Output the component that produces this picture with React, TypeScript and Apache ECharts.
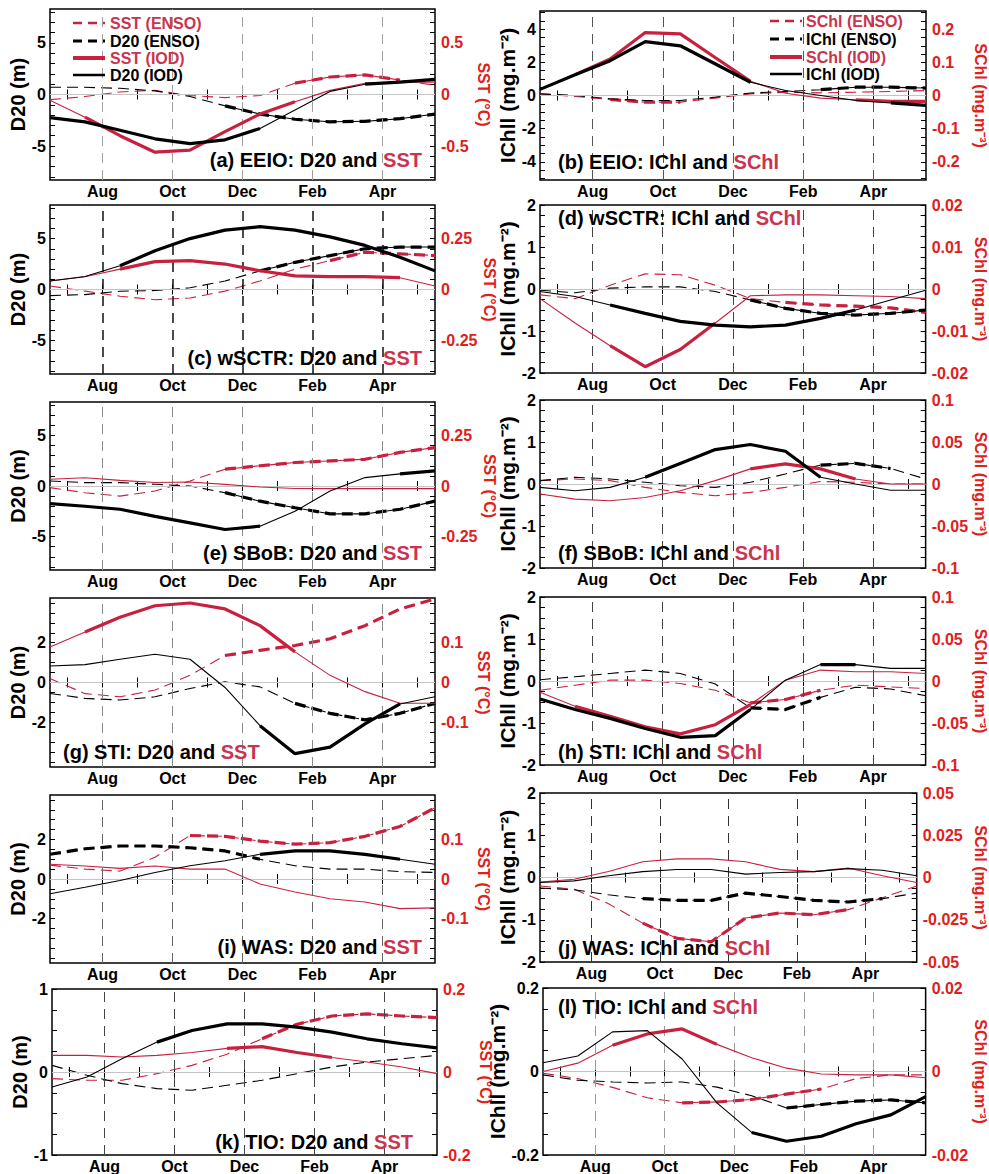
import { useEffect, useRef } from 'react';
import * as echarts from 'echarts';

// x axis unit: months since 1 June; monthly values are plotted mid-month (Jun..May)
const DATA_MONTHS = ['Jun', 'Jul', 'Aug', 'Sep', 'Oct', 'Nov', 'Dec', 'Jan', 'Feb', 'Mar', 'Apr', 'May'];
const X_LABELS = ['Aug', 'Oct', 'Dec', 'Feb', 'Apr'];
const X_LABEL_AT = [2, 4, 6, 8, 10];
const X_TICKS = [1, 2, 3, 4, 5, 6, 7, 8, 9, 10, 11];

// (a) EEIO
const A_SST_ENSO = [-0.05, -0.02, 0.025, 0.04, -0.01, -0.03, -0.01, 0.11, 0.17, 0.19, 0.14, 0.09];
const A_SST_ENSO_SIG = '000000011110';
const A_D20_ENSO = [0.7, 0.7, 0.6, 0.35, -0.2, -1.1, -1.9, -2.4, -2.65, -2.6, -2.35, -1.9];
const A_D20_ENSO_SIG = '000001111111';
const A_SST_IOD = [-0.055, -0.22, -0.4, -0.56, -0.54, -0.36, -0.19, -0.07, 0.04, 0.11, 0.12, 0.12];
const A_SST_IOD_SIG = '011111110000';
const A_D20_IOD = [-2.24, -2.66, -3.47, -4.3, -4.77, -4.4, -3.3, -1.5, 0.3, 1.0, 1.2, 1.46];
const A_D20_IOD_SIG = '111111100111';

// (b) EEIO chlorophyll
const B_SCHL_ENSO = [0.005, -0.003, -0.012, -0.02, -0.02, -0.008, 0.005, 0.01, 0.008, 0.01, 0.012, 0.015];
const B_SCHL_ENSO_SIG = '001110000000';
const B_ICHL_ENSO = [0.1, 0.0, -0.2, -0.3, -0.3, -0.1, 0.15, 0.25, 0.35, 0.5, 0.5, 0.45];
const B_ICHL_ENSO_SIG = '000000001111';
const B_SCHL_IOD = [0.017, 0.063, 0.11, 0.19, 0.186, 0.114, 0.043, 0.007, -0.008, -0.013, -0.018, -0.018];
const B_SCHL_IOD_SIG = '011111100111';
const B_ICHL_IOD = [0.37, 1.25, 2.1, 3.25, 3.0, 1.9, 0.8, 0.3, 0.0, -0.3, -0.45, -0.6];
const B_ICHL_IOD_SIG = '111111100011';

// (c) wSCTR
const C_SST_ENSO = [0.017, -0.008, -0.033, -0.05, -0.042, -0.008, 0.042, 0.1, 0.142, 0.183, 0.175, 0.167];
const C_SST_ENSO_SIG = '000000001111';
const C_D20_ENSO = [-0.6, -0.5, -0.17, -0.1, 0.17, 0.83, 1.83, 2.67, 3.33, 4.0, 4.17, 4.17];
const C_D20_ENSO_SIG = '000000111111';
const C_SST_IOD = [0.042, 0.063, 0.1, 0.137, 0.142, 0.125, 0.092, 0.067, 0.063, 0.063, 0.058, 0.017];
const C_SST_IOD_SIG = '001111111110';
const C_D20_IOD = [0.83, 1.27, 2.33, 3.8, 5.0, 5.83, 6.17, 5.83, 5.17, 4.33, 3.17, 1.83];
const C_D20_IOD_SIG = '001111111111';

// (d) wSCTR chlorophyll
const D_SCHL_ENSO = [-0.0014, -0.0023, 0.0009, 0.0036, 0.0034, 0.0009, -0.0023, -0.0032, -0.0038, -0.0041, -0.0045, -0.0056];
const D_SCHL_ENSO_SIG = '000000011111';
const D_ICHL_ENSO = [-0.03, -0.09, 0.02, 0.05, 0.05, -0.06, -0.26, -0.46, -0.58, -0.62, -0.58, -0.5];
const D_ICHL_ENSO_SIG = '000000111111';
const D_SCHL_IOD = [-0.0023, -0.0081, -0.0135, -0.0185, -0.0144, -0.0081, -0.0016, -0.0014, -0.0014, -0.0016, -0.0018, -0.0023];
const D_SCHL_IOD_SIG = '001111000000';
const D_ICHL_IOD = [-0.06, -0.18, -0.38, -0.58, -0.77, -0.86, -0.9, -0.86, -0.7, -0.5, -0.26, -0.03];
const D_ICHL_IOD_SIG = '001111111100';

// (e) SBoB
const E_SST_ENSO = [-0.008, -0.033, -0.05, -0.025, 0.025, 0.083, 0.1, 0.116, 0.124, 0.132, 0.166, 0.19];
const E_SST_ENSO_SIG = '000001111111';
const E_D20_ENSO = [0.5, 0.33, 0.33, 0.17, 0, -0.66, -1.5, -2.15, -2.75, -2.75, -2.3, -1.5];
const E_D20_ENSO_SIG = '000001111111';
const E_SST_IOD = [0.033, 0.041, 0.028, 0.017, 0.02, 0.008, -0.005, -0.012, -0.013, -0.013, -0.013, -0.013];
const E_SST_IOD_SIG = '000000000000';
const E_D20_IOD = [-1.75, -2.0, -2.3, -3.0, -3.64, -4.3, -3.97, -2.5, -0.5, 0.83, 1.2, 1.5];
const E_D20_IOD_SIG = '111111100011';

// (f) SBoB chlorophyll
const F_SCHL_ENSO = [0.004, 0.006, 0.004, -0.004, -0.01, -0.014, -0.01, -0.004, 0.003, 0.002, 0, 0];
const F_SCHL_ENSO_SIG = '000000000000';
const F_ICHL_ENSO = [0.08, 0.16, 0.12, 0.04, -0.04, -0.08, 0.04, 0.24, 0.45, 0.49, 0.37, 0.12];
const F_ICHL_ENSO_SIG = '000000001110';
const F_SCHL_IOD = [-0.012, -0.018, -0.02, -0.016, -0.008, 0.004, 0.018, 0.024, 0.018, 0.006, 0, 0];
const F_SCHL_IOD_SIG = '000000111100';
const F_ICHL_IOD = [-0.08, -0.16, -0.08, 0.16, 0.49, 0.82, 0.94, 0.78, 0.16, 0.0, -0.15, -0.15];
const F_ICHL_IOD_SIG = '000111111000';

// (g) STI
const G_SST_ENSO = [0.01, -0.028, -0.036, -0.019, 0.018, 0.068, 0.081, 0.093, 0.11, 0.143, 0.185, 0.21];
const G_SST_ENSO_SIG = '000001111111';
const G_D20_ENSO = [-0.55, -0.8, -0.88, -0.72, -0.3, 0.03, -0.22, -1.05, -1.55, -1.88, -1.55, -1.05];
const G_D20_ENSO_SIG = '000000011111';
const G_SST_IOD = [0.089, 0.127, 0.164, 0.193, 0.2, 0.185, 0.143, 0.077, 0.018, -0.023, -0.052, -0.052];
const G_SST_IOD_SIG = '011111110000';
const G_D20_IOD = [0.83, 0.9, 1.17, 1.42, 1.17, -0.25, -2.17, -3.58, -3.25, -2.08, -1.08, -0.72];
const G_D20_IOD_SIG = '000000111110';

// (h) STI chlorophyll
const H_SCHL_ENSO = [-0.011, -0.005, 0.001, 0.001, -0.003, -0.011, -0.026, -0.022, -0.011, -0.005, -0.007, -0.009];
const H_SCHL_ENSO_SIG = '000000111000';
const H_ICHL_ENSO = [0.03, 0.1, 0.18, 0.26, 0.18, -0.07, -0.64, -0.68, -0.39, -0.15, -0.19, -0.35];
const H_ICHL_ENSO_SIG = '000000111000';
const H_SCHL_IOD = [-0.0135, -0.03, -0.042, -0.0545, -0.063, -0.052, -0.028, 0.001, 0.013, 0.011, 0.011, 0.009];
const H_SCHL_IOD_SIG = '011111100000';
const H_ICHL_IOD = [-0.43, -0.68, -0.89, -1.13, -1.34, -1.3, -0.68, 0.02, 0.39, 0.39, 0.3, 0.3];
const H_ICHL_IOD_SIG = '111111101100';

// (i) WAS
const I_SST_ENSO = [0.035, 0.025, 0.02, 0.055, 0.11, 0.108, 0.096, 0.088, 0.092, 0.108, 0.133, 0.18];
const I_SST_ENSO_SIG = '000011111111';
const I_D20_ENSO = [1.25, 1.53, 1.67, 1.67, 1.58, 1.42, 1.0, 0.67, 0.5, 0.5, 0.37, 0.33];
const I_D20_ENSO_SIG = '111111100000';
const I_SST_IOD = [0.0375, 0.033, 0.027, 0.033, 0.025, 0.025, -0.0125, -0.033, -0.05, -0.058, -0.075, -0.073];
const I_SST_IOD_SIG = '000000000000';
const I_D20_IOD = [-0.75, -0.42, -0.08, 0.33, 0.67, 0.92, 1.25, 1.42, 1.42, 1.25, 1.0, 0.75];
const I_D20_IOD_SIG = '000000111110';

// (j) WAS chlorophyll
const J_SCHL_ENSO = [-0.005, -0.007, -0.0155, -0.027, -0.036, -0.038, -0.024, -0.021, -0.022, -0.019, -0.012, -0.005];
const J_SCHL_ENSO_SIG = '000111111100';
const J_ICHL_ENSO = [-0.25, -0.29, -0.41, -0.5, -0.54, -0.54, -0.37, -0.45, -0.54, -0.58, -0.5, -0.37];
const J_ICHL_ENSO_SIG = '000111111110';
const J_SCHL_IOD = [-0.0027, -0.001, 0.0035, 0.0093, 0.011, 0.011, 0.0093, 0.0048, 0.0035, 0.0056, 0.001, -0.003];
const J_SCHL_IOD_SIG = '000000000000';
const J_ICHL_IOD = [-0.12, -0.08, 0.04, 0.14, 0.19, 0.19, 0.08, 0.12, 0.14, 0.21, 0.17, 0.04];
const J_ICHL_IOD_SIG = '000000000000';

// (k) TIO
const K_SST_ENSO = [-0.016, -0.02, -0.02, -0.004, 0.016, 0.043, 0.08, 0.115, 0.135, 0.14, 0.135, 0.131];
const K_SST_ENSO_SIG = '000000111111';
const K_D20_ENSO = [0.08, -0.04, -0.14, -0.2, -0.22, -0.16, -0.1, -0.02, 0.06, 0.12, 0.16, 0.2];
const K_D20_ENSO_SIG = '000000000000';
const K_SST_IOD = [0.04, 0.04, 0.036, 0.04, 0.047, 0.057, 0.061, 0.047, 0.035, 0.024, 0.012, -0.004];
const K_SST_IOD_SIG = '000001111000';
const K_D20_IOD = [-0.18, -0.06, 0.16, 0.36, 0.5, 0.58, 0.58, 0.54, 0.48, 0.4, 0.34, 0.29];
const K_D20_IOD_SIG = '000111111111';

// (l) TIO chlorophyll
const L_SCHL_ENSO = [-0.0004, -0.0017, -0.0038, -0.0063, -0.0075, -0.0073, -0.0067, -0.0054, -0.0042, -0.0017, -0.0008, -0.0008];
const L_SCHL_ENSO_SIG = '000011111000';
const L_ICHL_ENSO = [-0.008, -0.021, -0.025, -0.0275, -0.025, -0.0375, -0.058, -0.0875, -0.079, -0.071, -0.068, -0.075];
const L_ICHL_ENSO_SIG = '000000011111';
const L_SCHL_IOD = [0, 0.002, 0.0063, 0.009, 0.0102, 0.0065, 0.0033, 0.0008, -0.0006, -0.0008, -0.0008, -0.0015];
const L_SCHL_IOD_SIG = '001111000000';
const L_ICHL_IOD = [0.021, 0.037, 0.095, 0.098, 0.03, -0.075, -0.146, -0.167, -0.155, -0.125, -0.104, -0.06];
const L_ICHL_IOD_SIG = '000000111111';

const LEGEND_A = ['SST (ENSO)', 'D20 (ENSO)', 'SST (IOD)', 'D20 (IOD)'];
const LEGEND_B = ['SChl (ENSO)', 'IChl (ENSO)', 'SChl (IOD)', 'IChl (IOD)'];
const NAME_D20 = 'D20 (m)';
const NAME_SST = 'SST (°C)';
const NAME_ICHL = 'IChll (mg.m⁻²)';
const NAME_SCHL = 'SChl (mg.m⁻³)';

const FONT = "'Liberation Sans', Arial, Helvetica, sans-serif";
const RED_LINE = '#c8213f';
const RED_TEXT = '#e0201b';
const TITLE_RED = '#c9344f';
const DASH = [11, 6];

type Line = { vals: number[]; sig: string; red: boolean; dashed: boolean };
const L4 = (re: number[], res: string, be: number[], bes: string, ri: number[], ris: string, bi: number[], bis: string): Line[] => [
  { vals: re, sig: res, red: true, dashed: true },
  { vals: be, sig: bes, red: false, dashed: true },
  { vals: ri, sig: ris, red: true, dashed: false },
  { vals: bi, sig: bis, red: false, dashed: false },
];

const PANELS = [
  { t: ['(a) EEIO: D20 and ', 'SST'], tp: [422, 160, 'right'], box: [50, 9, 385, 171], yl: 8.3, yr: 0.83, ll: [-5, 0, 5], rl: [-0.5, 0, 0.5], lt: 1, rt: 0.1, ln: NAME_D20, rn: NAME_SST, gc: '#a0a0a0', gw: 1,
    lines: L4(A_SST_ENSO, A_SST_ENSO_SIG, A_D20_ENSO, A_D20_ENSO_SIG, A_SST_IOD, A_SST_IOD_SIG, A_D20_IOD, A_D20_IOD_SIG) },
  { t: ['(b) EEIO: IChl and ', 'SChl'], tp: [558, 162, 'left'], box: [540, 11, 387, 169], yl: 5.1, yr: 0.255, ll: [-4, -2, 0, 2, 4], rl: [-0.2, -0.1, 0, 0.1, 0.2], lt: 0.5, rt: 0.025, ln: NAME_ICHL, rn: NAME_SCHL, gc: '#555', gw: 1,
    lines: L4(B_SCHL_ENSO, B_SCHL_ENSO_SIG, B_ICHL_ENSO, B_ICHL_ENSO_SIG, B_SCHL_IOD, B_SCHL_IOD_SIG, B_ICHL_IOD, B_ICHL_IOD_SIG) },
  { t: ['(c) wSCTR: D20 and ', 'SST'], tp: [422, 358, 'right'], box: [50, 205, 385, 169], yl: 8.3, yr: 0.415, ll: [-5, 0, 5], rl: [-0.25, 0, 0.25], lt: 1, rt: 0.05, ln: NAME_D20, rn: NAME_SST, gc: '#111', gw: 1.5,
    lines: L4(C_SST_ENSO, C_SST_ENSO_SIG, C_D20_ENSO, C_D20_ENSO_SIG, C_SST_IOD, C_SST_IOD_SIG, C_D20_IOD, C_D20_IOD_SIG) },
  { t: ['(d) wSCTR: IChl and ', 'SChl'], tp: [558, 218, 'left'], box: [540, 205, 387, 168], yl: 2, yr: 0.02, ll: [-2, -1, 0, 1, 2], rl: [-0.02, -0.01, 0, 0.01, 0.02], lt: 0.25, rt: 0.0025, ln: NAME_ICHL, rn: NAME_SCHL, gc: '#444', gw: 1,
    lines: L4(D_SCHL_ENSO, D_SCHL_ENSO_SIG, D_ICHL_ENSO, D_ICHL_ENSO_SIG, D_SCHL_IOD, D_SCHL_IOD_SIG, D_ICHL_IOD, D_ICHL_IOD_SIG) },
  { t: ['(e) SBoB: D20 and ', 'SST'], tp: [422, 553, 'right'], box: [50, 402, 385, 168], yl: 8.3, yr: 0.415, ll: [-5, 0, 5], rl: [-0.25, 0, 0.25], lt: 1, rt: 0.05, ln: NAME_D20, rn: NAME_SST, gc: '#8a8a8a', gw: 1,
    lines: L4(E_SST_ENSO, E_SST_ENSO_SIG, E_D20_ENSO, E_D20_ENSO_SIG, E_SST_IOD, E_SST_IOD_SIG, E_D20_IOD, E_D20_IOD_SIG) },
  { t: ['(f) SBoB: IChl and ', 'SChl'], tp: [558, 553, 'left'], box: [540, 400, 387, 168], yl: 2, yr: 0.1, ll: [-2, -1, 0, 1, 2], rl: [-0.1, -0.05, 0, 0.05, 0.1], lt: 0.25, rt: 0.0125, ln: NAME_ICHL, rn: NAME_SCHL, gc: '#444', gw: 1,
    lines: L4(F_SCHL_ENSO, F_SCHL_ENSO_SIG, F_ICHL_ENSO, F_ICHL_ENSO_SIG, F_SCHL_IOD, F_SCHL_IOD_SIG, F_ICHL_IOD, F_ICHL_IOD_SIG) },
  { t: ['(g) STI: D20 and ', 'SST'], tp: [63, 752, 'left'], box: [50, 598, 385, 169], yl: 4.25, yr: 0.2125, ll: [-2, 0, 2], rl: [-0.1, 0, 0.1], lt: 0.5, rt: 0.025, ln: NAME_D20, rn: NAME_SST, gc: '#8a8a8a', gw: 1,
    lines: L4(G_SST_ENSO, G_SST_ENSO_SIG, G_D20_ENSO, G_D20_ENSO_SIG, G_SST_IOD, G_SST_IOD_SIG, G_D20_IOD, G_D20_IOD_SIG) },
  { t: ['(h) STI: IChl and ', 'SChl'], tp: [558, 752, 'left'], box: [540, 597, 387, 168], yl: 2, yr: 0.1, ll: [-2, -1, 0, 1, 2], rl: [-0.1, -0.05, 0, 0.05, 0.1], lt: 0.25, rt: 0.0125, ln: NAME_ICHL, rn: NAME_SCHL, gc: '#444', gw: 1,
    lines: L4(H_SCHL_ENSO, H_SCHL_ENSO_SIG, H_ICHL_ENSO, H_ICHL_ENSO_SIG, H_SCHL_IOD, H_SCHL_IOD_SIG, H_ICHL_IOD, H_ICHL_IOD_SIG) },
  { t: ['(i) WAS: D20 and ', 'SST'], tp: [422, 947, 'right'], box: [50, 795, 385, 168], yl: 4.25, yr: 0.2125, ll: [-2, 0, 2], rl: [-0.1, 0, 0.1], lt: 0.5, rt: 0.025, ln: NAME_D20, rn: NAME_SST, gc: '#666', gw: 1,
    lines: L4(I_SST_ENSO, I_SST_ENSO_SIG, I_D20_ENSO, I_D20_ENSO_SIG, I_SST_IOD, I_SST_IOD_SIG, I_D20_IOD, I_D20_IOD_SIG) },
  { t: ['(j) WAS: IChl and ', 'SChl'], tp: [558, 948, 'left'], box: [540, 793, 387, 169], yl: 2, yr: 0.05, ll: [-2, -1, 0, 1, 2], rl: [-0.05, -0.025, 0, 0.025, 0.05], lt: 0.25, rt: 0.00625, ln: NAME_ICHL, rn: NAME_SCHL, gc: '#333', gw: 1,
    lines: L4(J_SCHL_ENSO, J_SCHL_ENSO_SIG, J_ICHL_ENSO, J_ICHL_ENSO_SIG, J_SCHL_IOD, J_SCHL_IOD_SIG, J_ICHL_IOD, J_ICHL_IOD_SIG) },
  { t: ['(k) TIO: D20 and ', 'SST'], tp: [413, 1142, 'right'], box: [52, 989, 385, 168], yl: 1, yr: 0.2, ll: [-1, 0, 1], rl: [-0.2, 0, 0.2], lt: 0.25, rt: 0.05, ln: NAME_D20, rn: NAME_SST, gc: '#444', gw: 1,
    lines: L4(K_SST_ENSO, K_SST_ENSO_SIG, K_D20_ENSO, K_D20_ENSO_SIG, K_SST_IOD, K_SST_IOD_SIG, K_D20_IOD, K_D20_IOD_SIG) },
  { t: ['(l) TIO: IChl and ', 'SChl'], tp: [558, 1007, 'left'], box: [543, 988, 384, 169], yl: 0.2, yr: 0.02, ll: [-0.2, 0, 0.2], rl: [-0.02, 0, 0.02], lt: 0.05, rt: 0.005, ln: NAME_ICHL, rn: NAME_SCHL, gc: '#999', gw: 1,
    lines: L4(L_SCHL_ENSO, L_SCHL_ENSO_SIG, L_ICHL_ENSO, L_ICHL_ENSO_SIG, L_SCHL_IOD, L_SCHL_IOD_SIG, L_ICHL_IOD, L_ICHL_IOD_SIG) },
];

const fmtNum = (v: number) => `${parseFloat(Number(v).toFixed(6))}`;
const stepValues = (max: number, step: number) => {
  const out: number[] = [];
  const k0 = Math.ceil(-max / step - 1e-9);
  const k1 = Math.floor(max / step + 1e-9);
  for (let k = k0; k <= k1; k++) out.push(parseFloat((k * step).toFixed(8)));
  return out;
};

function buildOption() {
  const grid: any[] = [];
  const xAxis: any[] = [];
  const yAxis: any[] = [];
  const series: any[] = [];
  const graphic: any[] = [];
  const labelStyle = { fontFamily: FONT, fontWeight: 'bold', fontSize: 16 };

  PANELS.forEach((p, i) => {
    const [left, top, width, height] = p.box;
    const isRightCol = left > 400;
    grid.push({ left, top, width, height, show: true, borderColor: '#000', borderWidth: 1.5, backgroundColor: 'rgba(0,0,0,0)', containLabel: false });
    const xBase = {
      type: 'value', gridIndex: i, min: 0.5, max: 11.5,
      axisLine: { show: false }, splitLine: { show: false },
      axisTick: { show: true, inside: true, length: 5, customValues: X_TICKS, lineStyle: { color: '#000', width: 1 } },
    };
    xAxis.push({
      ...xBase, position: 'bottom',
      axisLabel: { ...labelStyle, color: '#000', margin: 3, customValues: X_LABEL_AT, formatter: (v: number) => X_LABELS[X_LABEL_AT.indexOf(Math.round(v))] ?? '' },
    });
    xAxis.push({ ...xBase, position: 'top', axisLabel: { show: false } });
    yAxis.push({
      type: 'value', gridIndex: i, position: 'left', min: -p.yl, max: p.yl,
      axisLine: { show: false }, splitLine: { show: false },
      axisTick: { show: true, inside: true, length: 5, customValues: stepValues(p.yl, p.lt), lineStyle: { color: '#000' } },
      axisLabel: { ...labelStyle, color: '#000', margin: 4, customValues: p.ll, formatter: fmtNum },
      name: p.ln, nameLocation: 'middle', nameRotate: 90, nameGap: isRightCol ? 16 : 21,
      nameTextStyle: { fontFamily: FONT, fontWeight: 'bold', fontSize: isRightCol ? 21 : 20, color: '#000' },
    });
    yAxis.push({
      type: 'value', gridIndex: i, position: 'right', min: -p.yr, max: p.yr,
      axisLine: { show: false }, splitLine: { show: false },
      axisTick: { show: true, inside: true, length: 5, customValues: stepValues(p.yr, p.rt), lineStyle: { color: '#000' } },
      axisLabel: { ...labelStyle, color: RED_TEXT, margin: 6, customValues: p.rl, formatter: fmtNum },
      name: p.rn, nameLocation: 'middle', nameRotate: -90, nameGap: isRightCol ? 46 : 40,
      nameTextStyle: { fontFamily: FONT, fontWeight: 'bold', fontSize: 16, color: RED_TEXT },
    });

    // reference lines: month dashes and zero line
    series.push({
      type: 'line', xAxisIndex: 2 * i, yAxisIndex: 2 * i, data: [], silent: true, z: 1,
      markLine: {
        silent: true, symbol: ['none', 'none'], label: { show: false }, animation: false,
        data: [
          ...X_LABEL_AT.map((m) => ({ xAxis: m, lineStyle: { color: p.gc, width: p.gw, type: [10, 7] } })),
          { yAxis: 0, lineStyle: { color: '#c4c4c4', width: 1, type: 'solid' } },
        ],
      },
    });

    p.lines.forEach((ln, li) => {
      const color = ln.red ? RED_LINE : '#000';
      const yIdx = 2 * i + (ln.red ? 1 : 0);
      const type = ln.dashed ? DASH : 'solid';
      const pts = ln.vals.map((v, k) => [k + 0.5, v]);
      const thick = ln.vals.map((v, k) => [k + 0.5, ln.sig[k] === '1' ? v : '-']);
      series.push({
        type: 'line', name: `${DATA_MONTHS[0]}-${li}`, xAxisIndex: 2 * i, yAxisIndex: yIdx, data: pts,
        symbol: 'none', silent: true, z: 3 + li, lineStyle: { color, width: 1.1, type },
      });
      series.push({
        type: 'line', xAxisIndex: 2 * i, yAxisIndex: yIdx, data: thick, connectNulls: false,
        symbol: 'none', silent: true, z: 3 + li, lineStyle: { color, width: 3.2, type },
      });
    });

    const [tx, ty, align] = p.tp as [number, number, string];
    graphic.push({
      type: 'text', x: tx, y: ty, z: 50, silent: true,
      style: {
        text: `{k|${p.t[0]}}{r|${p.t[1]}}`, align, verticalAlign: 'middle',
        fontFamily: FONT, fontWeight: 'bold', fontSize: 20,
        rich: {
          k: { fontFamily: FONT, fontWeight: 'bold', fontSize: 20, fill: '#000' },
          r: { fontFamily: FONT, fontWeight: 'bold', fontSize: 20, fill: TITLE_RED },
        },
      },
    });
  });

  const legendStyles = [
    { stroke: RED_LINE, lineWidth: 2.5, lineDash: [9, 6] },
    { stroke: '#000', lineWidth: 3, lineDash: [9, 6] },
    { stroke: RED_LINE, lineWidth: 4, lineDash: null },
    { stroke: '#000', lineWidth: 2.5, lineDash: null },
  ];
  const addLegend = (labels: string[], x1: number, x2: number, tx: number, rows: number[]) => {
    labels.forEach((lab, k) => {
      graphic.push({ type: 'line', z: 60, silent: true, shape: { x1, y1: rows[k], x2, y2: rows[k] }, style: { ...legendStyles[k] } });
      graphic.push({
        type: 'text', z: 60, silent: true, x: tx, y: rows[k],
        style: { text: lab, fill: k % 2 === 0 ? TITLE_RED : '#000', fontFamily: FONT, fontWeight: 'bold', fontSize: 16, align: 'left', verticalAlign: 'middle' },
      });
    });
  };
  addLegend(LEGEND_A, 73, 105, 110, [23, 41, 58, 75]);
  addLegend(LEGEND_B, 770, 802, 806, [21, 39, 57, 74]);

  return { animation: false, backgroundColor: '#fff', grid, xAxis, yAxis, series, graphic };
}

export default function App() {
  const ref = useRef<HTMLDivElement>(null);
  useEffect(() => {
    if (!ref.current) return;
    const chart = echarts.init(ref.current, undefined, { renderer: 'svg' });
    chart.setOption(buildOption() as any);
    return () => chart.dispose();
  }, []);
  return <div ref={ref} style={{ position: 'absolute', left: 0, top: 0, width: 989, height: 1174, background: '#fff' }} />;
}
